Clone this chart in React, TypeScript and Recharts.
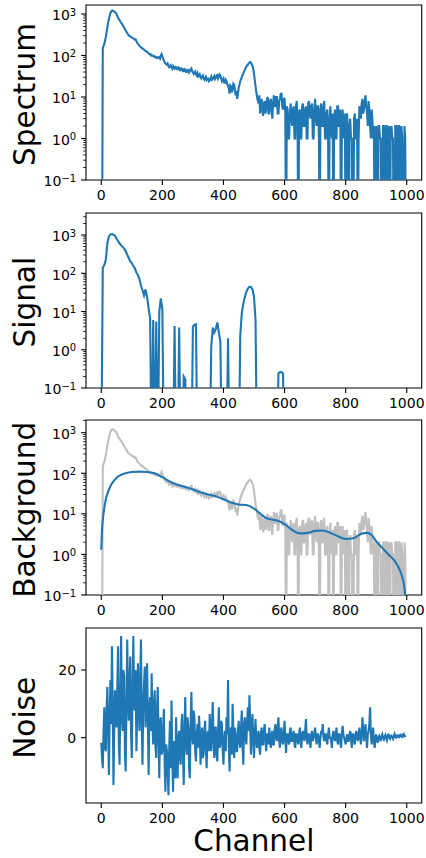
import { LineChart, Line, XAxis, YAxis, ReferenceArea } from 'recharts';

// spectrum and noise are sampled every 2.5 channels, signal every 5, from channel 0
const FINE_STEP = 2.5;
const SIGNAL_STEP = 5;

const SPECTRUM = [
  0, 0, 150, 170, 190, 230, 280, 370, 480, 620, 760, 900, 1050, 1150, 1200, 1210, 1180, 1150, 1100, 1060,
  1000, 900, 800, 760, 700, 660, 620, 580, 540, 500, 470, 430, 400, 370, 350, 325, 305, 300, 290, 280,
  275, 262, 260, 250, 240, 245, 225, 200, 190, 180, 172, 165, 160, 150, 150, 142, 140, 132, 131, 126,
  122, 118, 113, 108, 108, 100, 103, 98, 98, 94, 96, 90, 92, 86, 88, 92, 90, 84, 100, 108,
  95, 85, 75, 68, 65, 62, 60, 64, 57, 52, 54, 58, 52, 48, 55, 50, 48, 53, 52, 47,
  47, 52, 50, 44, 44, 49, 48, 42, 42, 47, 46, 40, 40, 45, 44, 39, 42, 47, 49, 42,
  40, 36, 38, 41, 35, 33, 37, 31, 32, 35, 30, 28, 31, 33, 28, 26, 29, 31, 26, 28,
  28, 24, 25, 28, 31, 26, 27, 30, 32, 27, 29, 33, 34, 28, 31, 35, 33, 28, 24, 26,
  28, 22, 22, 26, 24, 20, 19, 16, 12, 19, 18, 13, 15, 21, 20, 15, 11, 14, 9, 12,
  17, 20, 24, 27, 30, 34, 37, 41, 45, 50, 54, 58, 60, 65, 68, 70, 66, 62, 56, 48,
  36, 26, 18, 13, 10, 8, 7, 11, 4, 6, 9, 5, 3.5, 7, 8, 4, 5, 9, 10, 4,
  4, 8, 9, 5, 3, 7, 11, 6, 6, 10, 10, 4, 4, 8, 9, 12, 12, 6, 5, 9,
  9, 4, 0, 6, 5, 1, 1, 4, 7, 3, 2, 5, 6, 1, 1, 6, 8, 3, 0, 4,
  5, 1, 1, 6, 7, 2, 2, 5, 6, 1, 1, 7, 8, 4, 3, 6, 7, 1, 1, 5,
  9, 3, 2, 6, 6, 1, 0, 5, 7, 2, 2, 6, 8, 1, 1, 4, 5, 1, 0, 3,
  6, 2, 1, 4, 0, 3, 5, 1, 1, 6, 6, 2, 2, 5, 0, 1, 5, 2, 1, 4,
  0, 3, 4, 1, 0, 2, 3, 1, 1, 0, 0, 3, 4, 1, 1, 3, 0, 1, 6, 4,
  3, 7, 9, 4, 5, 8, 11, 6, 4, 2, 8, 5, 2, 1, 5, 3, 1, 2, 0, 1,
  2, 1, 0, 2, 2, 1, 1, 0, 0, 2, 2, 1, 0, 2, 2, 0, 1, 2, 0, 1,
  2, 1, 1, 0, 0, 2, 2, 1, 0, 2, 2, 0, 1, 2, 1, 0, 0, 2, 1, 0,
];

const SIGNAL = [
  0, 142, 165, 230, 620, 920, 1040, 1060, 1020, 960,
  800, 700, 600, 540, 490, 440, 380, 305, 250, 205,
  185, 155, 135, 105, 90, 70, 48, 36, 26, 38,
  24, 12, 6.5, 0, 6, 0, 5.5, 0, 10, 22,
  12, 0, 0, 0, 0, 0, 0, 0, 4.2, 0,
  0, 3.8, 0, 0, 0.2, 0.17, 0, 0, 0, 0,
  4, 4.5, 4.6, 0, 0, 0, 0, 0, 0, 0,
  0, 0, 1.2, 3.8, 2.8, 3.5, 5.2, 2.8, 1.6, 0,
  0, 0, 0, 2, 0, 0, 0, 0, 0, 0,
  0, 2.3, 9, 16, 24, 33, 40, 44, 44, 38,
  24, 6, 0, 0, 0, 0, 0, 0, 0, 0,
  0, 0, 0, 0, 0, 0, 0.24, 0.26, 0.26, 0.24,
  0, 0, 0, 0, 0, 0, 0, 0, 0, 0,
  0, 0, 0, 0, 0, 0, 0, 0, 0, 0,
  0, 0, 0, 0, 0, 0, 0, 0, 0, 0,
  0, 0, 0, 0, 0, 0, 0, 0, 0, 0,
  0, 0, 0, 0, 0, 0, 0, 0, 0, 0,
  0, 0, 0, 0, 0, 0, 0, 0, 0, 0,
  0, 0, 0, 0, 0, 0, 0, 0, 0, 0,
  0, 0, 0, 0, 0, 0, 0, 0, 0, 0,
];

const NOISE = [
  -1.5, -6, -9, 2, 9, -3, -4, 8, 15, 3, -11, 6, 17, 4, 27, 10, -14, 2, 14, 8,
  3, 15, 27, -2, -8, 12, 30, 6, 2, 20, 18, -5, -10, 9, 29, 13, 5, 16, 24, 1,
  -6, 14, 30, 10, 8, 20, -4, 7, 22, 11, 2, 18, 29, 4, -8, 10, 16, 21, 3, 9,
  22, 6, -11, 8, 12, 2, 19, 4, -2, 10, 14, -3, -6, 9, 15, 0, -12, 5, 6, -5,
  -4, 3, 8.5, -8, -16, -2, -4, -10, -17, -3, 5, -9, 11, -6, -16, -1, -3, -12, 6, -4,
  -12, 0, 2, -6, -8, 4, 7, -5, -14, 2, 12, -2, -5, 6, 3, -9, -12, 4, 13.5, 1,
  -2, 8, 6, -4, -7, 1, 4, -3, 6.5, 2, -8, -1, 3, -6, -5, 2, 5, -3, -9, 1,
  2, -4, 7, 1, -4, 4, 10.5, -1, -6, 3, 3, -5, -7, 2, 9, -3, -2, 5, 4, -4,
  -8, 0, 2, -4, 6, 1, 17, -2, -10, 2, 3, -5, 10, 2, -6, 3, 1, -4, -4, 2,
  5, -1, -3, 3, 8, -2, -8, 4, 6, 0, -2, 5, 9, 2, 12.5, 4, -5, 3, 7, -1,
  -6, 1, 5.5, -1, -3, 1, 2, -3, -5, 1, 3, -2, -2, 2, 4, -1, -4, 1, 1, -2,
  3, -1, -3, 1, 2, -2, -2, 2, 4, 0, -1, 3, 6, -1, -3, 2, 3, -1, -2, 1,
  5, 0, -4.5, 1, 1, -1, -2, 2, 3, -1, -1, 1, 2, -2, -3, 1, 1, -1, -2, 1,
  3, -1, -3, 1, 2, 0, -1, 2, 5.5, 0, -2, 1, 1, -1, -3, 1, 2, -1, 0, 1,
  3, 0, -2, 1, 1, -1, -3, 0, 2, 1, 4, 0, -1, 1, 1, -1, -2, 1, 3, 0,
  0, -1, -3, 1, 2, 0, -1, 1, 3, -1, -2, 1, 1, -1, -3, 1, 3.5, 1, 0, -1,
  -2, 0, 1, -1, -1, 1, 2, 0, -3, 1, 1, -1, -2, 1, 2, 0, -1, 1, 3, 0,
  -2, 1, 6, 2, -1, 2, 4, 0, -3, 1, 2, 4, 9, 1, -2, 1, 3, -1, -3, 0,
  1, -0.5, -1.5, 0, 0.5, -0.3, -1, 0.4, 1, 0, -0.5, 0.3, 0.8, -0.2, -0.8, 0.4, 1.2, 0.1, -0.3, 0.5,
  0.6, 0, -0.4, 0.5, 1.1, 0.2, 0, 0.6, 0.7, 0.2, 0.1, 0.8, 0.9, 0.3, 0.2, 0.9, 1.1, 0.4, 0.5, 0.6,
];

// smooth background estimate, irregular channels
const BG_CHANNELS = [
  0, 2, 5, 10, 15, 20, 30, 40, 50, 60, 80, 100, 125, 150, 175, 200, 225, 250,
  275, 300, 325, 350, 375, 400, 425, 450, 475, 500, 520, 540, 560, 580, 600,
  625, 650, 675, 700, 725, 750, 775, 800, 825, 850, 870, 885, 900, 920, 940,
  960, 975, 985, 993, 999,
];
const BG_VALUES = [
  1.3, 3.5, 7, 14, 23, 31, 48, 63, 77, 88, 100, 107, 110, 107, 100, 80, 62, 52,
  46, 40, 34, 30, 27, 23, 19, 17, 16.5, 13.5, 10.2, 7.9, 7.2, 6.7, 5.6,
  4.0, 3.3, 3.4, 3.8, 3.9, 3.4, 2.8, 2.4, 2.5, 3.2, 3.4, 3.0, 2.1, 1.45, 1.0,
  0.7, 0.45, 0.28, 0.14, 0.02,
];

const X_TICKS = [0, 200, 400, 600, 800, 1000];
const LOG_MAJORS = [0.1, 1, 10, 100, 1000];
const NOISE_TICKS = [0, 20];

const BLUE = '#1f77b4';
const GRAY = '#c0c0c0';
const FONT = '"DejaVu Sans", sans-serif';

const X_DOMAIN: [number, number] = [-49.95, 1048.95];
const FLOOR = 1e-3; // zero counts sit below the log axis and get clipped

const PLOT_LEFT = 86;
const PLOT_RIGHT = 421.7;
const PLOT_H = 175;
const PAD_TOP = 5;
const X_AXIS_H = 30;
const TICK_LEN = 4.9;
const MINOR_LEN = 2.8;
const TICK_PAD = 4.9;
const LW = 2.1;

const toRows = (vals: number[], step: number, log: boolean) =>
  vals.map((v, i) => ({ ch: i * step, v: log ? Math.max(v, FLOOR) : v }));

const spectrumRows = toRows(SPECTRUM, FINE_STEP, true);
const signalRows = toRows(SIGNAL, SIGNAL_STEP, true);
const noiseRows = toRows(NOISE, FINE_STEP, false);
const bgRows = BG_CHANNELS.map((ch, i) => ({ ch, v: Math.max(BG_VALUES[i], FLOOR) }));

const logTicks = (top: number) => {
  const out: number[] = [];
  LOG_MAJORS.forEach((m) => {
    out.push(m);
    for (let k = 2; k <= 9; k++) if (m * k <= top) out.push(m * k);
  });
  return out;
};

const LogTick = (props: any) => {
  const { x, y, payload } = props;
  const v = payload.value;
  const major = LOG_MAJORS.includes(v);
  const axisX = x + TICK_LEN + TICK_PAD;
  const exp = Math.round(Math.log10(v));
  return (
    <g>
      <line
        x1={axisX}
        x2={axisX - (major ? TICK_LEN : MINOR_LEN)}
        y1={y}
        y2={y}
        stroke="#000"
        strokeWidth={major ? 1.1 : 0.85}
      />
      {major && (
        <text x={x} y={y + 6.3} textAnchor="end" fontSize={14} fill="#000">
          10
          <tspan dy={-4.8} fontSize={10}>
            {exp < 0 ? '\u2212' + -exp : String(exp)}
          </tspan>
        </text>
      )}
    </g>
  );
};

const PANELS = [
  { top: 5, label: 'Spectrum' },
  { top: 212.7, label: 'Signal' },
  { top: 420.3, label: 'Background' },
  { top: 628.3, label: 'Noise' },
];

function Panel({ top, yDomain, log, children }: any) {
  const ticks = log ? logTicks(yDomain[1]) : NOISE_TICKS;
  return (
    <div style={{ position: 'absolute', left: 0, top: top - PAD_TOP }}>
      <LineChart
        width={426}
        height={PAD_TOP + PLOT_H + X_AXIS_H}
        margin={{ top: PAD_TOP, right: 426 - PLOT_RIGHT, bottom: 0, left: 0 }}
      >
        <XAxis
          dataKey="ch"
          type="number"
          domain={X_DOMAIN}
          allowDataOverflow
          ticks={X_TICKS}
          interval={0}
          height={X_AXIS_H}
          axisLine={false}
          tickSize={TICK_LEN}
          tickMargin={TICK_PAD}
          tickLine={{ stroke: '#000', strokeWidth: 1.1 }}
          tick={{ fontSize: 14, fill: '#000' }}
        />
        {log ? (
          <YAxis
            type="number"
            scale="log"
            domain={yDomain}
            allowDataOverflow
            ticks={ticks}
            interval={0}
            width={PLOT_LEFT}
            axisLine={false}
            tickLine={false}
            tickSize={TICK_LEN}
            tickMargin={TICK_PAD}
            tick={<LogTick />}
          />
        ) : (
          <YAxis
            type="number"
            domain={yDomain}
            allowDataOverflow
            ticks={ticks}
            interval={0}
            width={PLOT_LEFT}
            axisLine={false}
            tickSize={TICK_LEN}
            tickMargin={TICK_PAD}
            tickLine={{ stroke: '#000', strokeWidth: 1.1 }}
            tick={{ fontSize: 14, fill: '#000' }}
          />
        )}
        {children}
        <ReferenceArea
          x1={X_DOMAIN[0]}
          x2={X_DOMAIN[1]}
          y1={yDomain[0]}
          y2={yDomain[1]}
          ifOverflow="visible"
          fill="none"
          stroke="#000"
          strokeWidth={1.1}
        />
      </LineChart>
    </div>
  );
}

const line = (rows: any[], color: string, type: any = 'linear') => (
  <Line
    data={rows}
    dataKey="v"
    type={type}
    stroke={color}
    strokeWidth={LW}
    dot={false}
    activeDot={false}
    isAnimationActive={false}
  />
);

export default function App() {
  return (
    <div
      style={{
        position: 'absolute',
        left: 0,
        top: 0,
        width: 426,
        height: 858,
        background: '#fff',
        fontFamily: FONT,
      }}
    >
      <Panel top={PANELS[0].top} yDomain={[0.1, 1648]} log>
        {line(spectrumRows, BLUE)}
      </Panel>
      <Panel top={PANELS[1].top} yDomain={[0.1, 3770]} log>
        {line(signalRows, BLUE)}
      </Panel>
      <Panel top={PANELS[2].top} yDomain={[0.1, 2055]} log>
        {line(spectrumRows, GRAY)}
        {line(bgRows, BLUE, 'monotone')}
      </Panel>
      <Panel top={PANELS[3].top} yDomain={[-19.3, 32.4]} log={false}>
        {line(noiseRows, BLUE)}
      </Panel>

      <svg
        width={426}
        height={858}
        style={{ position: 'absolute', left: 0, top: 0, pointerEvents: 'none' }}
      >
        {PANELS.map((p) => {
          const cy = p.top + PLOT_H / 2 + 2;
          return (
            <text
              key={p.label}
              x={35}
              y={cy}
              transform={`rotate(-90, 35, ${cy})`}
              textAnchor="middle"
              fontSize={29.5}
              fill="#000"
            >
              {p.label}
            </text>
          );
        })}
        <text x={(PLOT_LEFT + PLOT_RIGHT) / 2} y={851} textAnchor="middle" fontSize={29.5} fill="#000">
          Channel
        </text>
      </svg>
    </div>
  );
}
